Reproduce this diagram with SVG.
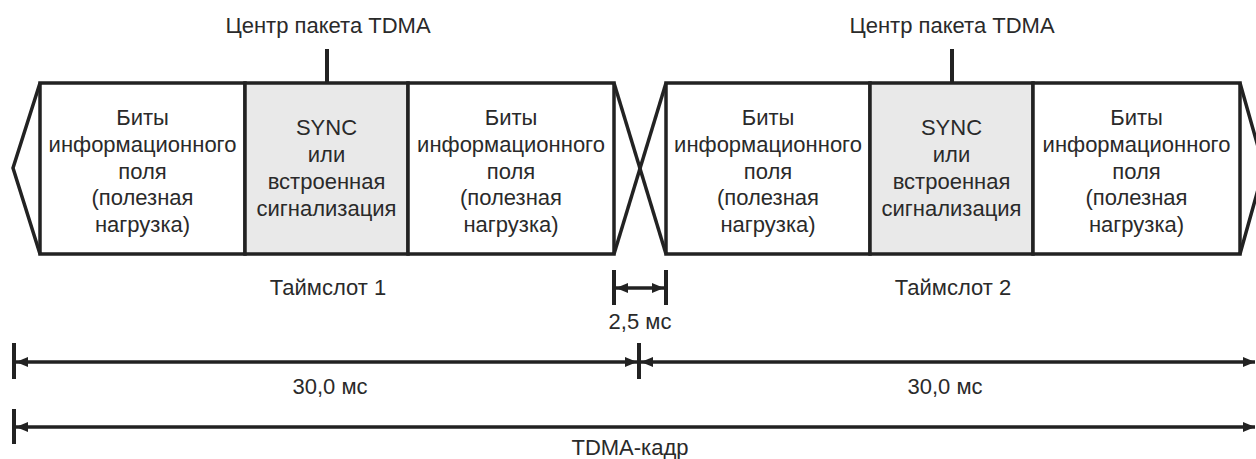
<svg xmlns="http://www.w3.org/2000/svg" width="1256" height="459" viewBox="0 0 1256 459">
<style>
text{font-family:"Liberation Sans",Arial,sans-serif;font-size:22px;fill:#2a2a2a;text-anchor:middle}
.box{fill:#fff;stroke:#222;stroke-width:3.5}
.sync{fill:#e9e9e9;stroke:#222;stroke-width:3.5}
.ln{fill:none;stroke:#222;stroke-width:3.5;stroke-linejoin:miter}
.dim{fill:none;stroke:#222;stroke-width:3.5}
.tick{stroke:#222;stroke-width:4}
</style>
<defs>
<marker id="ar" viewBox="0 0 12 10" refX="12" refY="5" markerWidth="12" markerHeight="10" markerUnits="userSpaceOnUse" orient="auto-start-reverse">
<path d="M0,0 L12,5 L0,10 z" fill="#222"/>
</marker>
</defs>
<rect width="1256" height="459" fill="#fff"/>

<g id="slot1">
<rect class="box" x="40" y="83" width="205" height="171"/>
<rect class="sync" x="245" y="83" width="163" height="171"/>
<rect class="box" x="408" y="83" width="206" height="171"/>
<text x="142.5" y="125">Биты</text>
<text x="142.5" y="152">информационного</text>
<text x="142.5" y="179">поля</text>
<text x="142.5" y="205">(полезная</text>
<text x="142.5" y="232">нагрузка)</text>
<text x="326.5" y="135">SYNC</text>
<text x="326.5" y="162">или</text>
<text x="326.5" y="189">встроенная</text>
<text x="326.5" y="216">сигнализация</text>
<text x="511" y="125">Биты</text>
<text x="511" y="152">информационного</text>
<text x="511" y="179">поля</text>
<text x="511" y="205">(полезная</text>
<text x="511" y="232">нагрузка)</text>
</g>

<g id="slot2">
<rect class="box" x="666" y="83" width="204" height="171"/>
<rect class="sync" x="870" y="83" width="163" height="171"/>
<rect class="box" x="1033" y="83" width="207" height="171"/>
<text x="768" y="125">Биты</text>
<text x="768" y="152">информационного</text>
<text x="768" y="179">поля</text>
<text x="768" y="205">(полезная</text>
<text x="768" y="232">нагрузка)</text>
<text x="951.5" y="135">SYNC</text>
<text x="951.5" y="162">или</text>
<text x="951.5" y="189">встроенная</text>
<text x="951.5" y="216">сигнализация</text>
<text x="1136.5" y="125">Биты</text>
<text x="1136.5" y="152">информационного</text>
<text x="1136.5" y="179">поля</text>
<text x="1136.5" y="205">(полезная</text>
<text x="1136.5" y="232">нагрузка)</text>
</g>

<g id="labels">
<text x="328" y="33">Центр пакета TDMA</text>
<text x="952" y="33">Центр пакета TDMA</text>
<text x="328" y="295">Таймслот 1</text>
<text x="953" y="295">Таймслот 2</text>
<text x="640" y="329">2,5 мс</text>
<text x="330" y="394">30,0 мс</text>
<text x="945" y="394">30,0 мс</text>
<text x="630" y="455">TDMA-кадр</text>
</g>

<g id="connectors">
<line class="tick" x1="327" y1="49" x2="327" y2="83"/>
<line class="tick" x1="952" y1="49" x2="952" y2="83"/>
<polyline class="ln" points="40,83 13,168 40,254"/>
<line class="ln" x1="614" y1="83" x2="666" y2="254"/>
<line class="ln" x1="666" y1="83" x2="614" y2="254"/>
<polyline class="ln" points="1240,83 1264,168 1240,254"/>
<line class="tick" x1="614" y1="270" x2="614" y2="305"/>
<line class="tick" x1="666" y1="270" x2="666" y2="305"/>
<line class="dim" x1="616" y1="288" x2="664" y2="288" marker-start="url(#ar)" marker-end="url(#ar)"/>
<line class="tick" x1="14" y1="343" x2="14" y2="379"/>
<line class="tick" x1="639" y1="343" x2="639" y2="379"/>
<line class="dim" x1="16" y1="362" x2="637" y2="362" marker-start="url(#ar)" marker-end="url(#ar)"/>
<line class="dim" x1="641" y1="362" x2="1255" y2="362" marker-start="url(#ar)" marker-end="url(#ar)"/>
<line class="tick" x1="14" y1="409" x2="14" y2="444"/>
<line class="dim" x1="16" y1="427" x2="1255" y2="427" marker-start="url(#ar)" marker-end="url(#ar)"/>
</g>
</svg>
